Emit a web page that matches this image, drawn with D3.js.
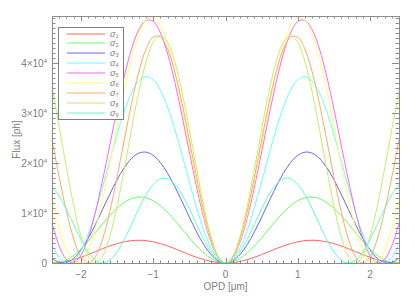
<!DOCTYPE html>
<html>
<head>
<meta charset="utf-8">
<script src="https://cdn.jsdelivr.net/npm/d3@7"></script>
<style>
  body { margin: 0; background: #fff; }
  svg text { font-family: "Liberation Sans", Arial, sans-serif; fill: #808080; }
</style>
</head>
<body>
<div id="chart"></div>
<script>
// OPD samples (µm)
var opd = [-2.4,-2.3,-2.2,-2.1,-2.0,-1.9,-1.8,-1.7,-1.6,-1.5,-1.4,-1.3,-1.2,-1.1,-1.0,-0.9,-0.8,-0.7,-0.6,-0.5,-0.4,-0.3,-0.2,-0.1,
           0.0,0.1,0.2,0.3,0.4,0.5,0.6,0.7,0.8,0.9,1.0,1.1,1.2,1.3,1.4,1.5,1.6,1.7,1.8,1.9,2.0,2.1,2.2,2.3,2.4];

// flux [ph] for each spectral channel
var sigma1 = [0,80,300,670,1140,1690,2280,2860,3410,3880,4250,4470,4550,4470,4250,3880,3410,2860,2280,1690,1140,670,300,80,
              0,80,300,670,1140,1690,2280,2860,3410,3880,4250,4470,4550,4470,4250,3880,3410,2860,2280,1690,1140,670,300,80,0];
var sigma2 = [40,80,590,1520,2810,4360,6070,7820,9490,10950,12100,12870,13190,13050,12460,11450,10100,8510,6780,5030,3400,2000,910,230,
              0,230,910,2000,3400,5030,6780,8510,10100,11450,12460,13050,13190,12870,12100,10950,9490,7820,6070,4360,2810,1520,590,80,40];
var sigma3 = [960,110,110,960,2600,4890,7670,10710,13780,16650,19090,20900,21960,22170,21530,20080,17930,15260,12260,9170,6230,3670,1690,430,
              0,430,1690,3670,6230,9170,12260,15260,17930,20080,21530,22170,21960,20900,19090,16650,13780,10710,7670,4890,2600,960,110,110,960];
var sigma4 = [3630,1110,30,490,2450,5750,10110,15160,20540,25720,30330,33990,36370,37290,36680,34570,31160,26710,21600,16240,11080,6550,3010,770,
              0,770,3010,6550,11080,16240,21600,26710,31160,34570,36680,37290,36370,33990,30330,25720,20540,15160,10110,5750,2450,490,30,1110,3630];
var sigma5 = [7920,3390,680,40,1520,4990,10150,16550,23620,30750,37350,42790,46630,48530,48320,46010,41820,36120,29380,22190,15190,9000,4150,1060,
              0,1060,4150,9000,15190,22190,29380,36120,41820,46010,48320,48530,46630,42790,37350,30750,23620,16550,10150,4990,1520,40,680,3390,7920];
var sigma6 = [12840,6870,2550,290,290,2560,6880,12860,19910,27420,34680,40970,45750,48550,49130,47410,43580,37970,31100,23660,16280,9690,4480,1150,
              0,1150,4480,9690,16280,23660,31100,37970,43580,47410,49130,48550,45750,40970,34680,27420,19910,12860,6880,2560,290,290,2550,6870,12840];
var sigma7 = [24630,17160,10310,4800,1230,0,1230,4800,10310,17160,24630,31890,38160,42760,45190,45190,42760,38160,31890,24630,17160,10310,4800,1230,
              0,1230,4800,10310,17160,24630,31890,38160,42760,45190,45190,42760,38160,31890,24630,17160,10310,4800,1230,0,1230,4800,10310,17160,24630];
var sigma8 = [35200,27200,19000,11500,5400,1400,0,1370,5320,11380,18800,26700,34130,40180,44130,45500,44130,40180,34130,26700,18800,11380,5320,1370,
              0,1370,5320,11380,18800,26700,34130,40180,44130,45500,44130,40180,34130,26700,18800,11380,5320,1370,0,1370,5320,11380,18800,26700,34130];
var sigma9 = [15300,13400,10700,7700,4710,2220,570,0,570,2220,4710,7720,10830,13620,15730,16860,16860,15730,13620,10830,7720,4710,2220,570,
              0,570,2220,4710,7720,10830,13620,15730,16860,16860,15730,13620,10830,7720,4710,2220,570,0,570,2220,4710,7720,10830,13620,15730];

var seriesNames = ["1","2","3","4","5","6","7","8","9"];
var seriesValues = [sigma1, sigma2, sigma3, sigma4, sigma5, sigma6, sigma7, sigma8, sigma9];
var colors = ["#ff6464","#64ff64","#6464ff","#64ffff","#ff64ff","#ffff64","#ffaa64","#c4f064","#64ffc0"];

var xTicks = [-2, -1, 0, 1, 2];
var yTicks = [0, 10000, 20000, 30000, 40000];
var yTickMant = ["0", "1", "2", "3", "4"];

// layout (plot box in pixels)
var W = 415, H = 297;
var pL = 52, pR = 399, pT = 16, pB = 263;
var axisCol = "#8c8c8c";

var svg = d3.select("#chart").append("svg")
    .attr("width", W)
    .attr("height", H);

var x = d3.scaleLinear().domain([-2.4, 2.4]).range([pL, pR]);
var y = d3.scaleLinear().domain([0, 49400]).range([pB, pT]);

// curves
var line = d3.line()
    .x(function (d, i) { return x(opd[i]); })
    .y(function (d) { return y(d); })
    .curve(d3.curveCatmullRom);

svg.append("g").selectAll("path")
    .data(seriesValues)
    .enter()
    .append("path")
    .attr("fill", "none")
    .attr("stroke", function (d, i) { return colors[i]; })
    .attr("stroke-width", 1)
    .attr("d", line);

// frame
svg.append("rect")
    .attr("x", pL + 0.5).attr("y", pT + 0.5)
    .attr("width", pR - pL).attr("height", pB - pT)
    .attr("fill", "none").attr("stroke", axisCol);

// ticks, inward, mirrored on the opposite side
var xMinor = d3.range(-24, 25).map(function (k) { return k / 10; });
var yMinor = d3.range(0, 50).map(function (k) { return k * 1000; });
var tk = svg.append("g").attr("stroke", axisCol).attr("stroke-width", 1);

xMinor.forEach(function (v) {
    var major = Math.abs(v - Math.round(v)) < 1e-6;
    var len = major ? 5 : 2.5;
    var px = Math.round(x(v)) + 0.5;
    tk.append("line").attr("x1", px).attr("x2", px).attr("y1", pB).attr("y2", pB - len);
    tk.append("line").attr("x1", px).attr("x2", px).attr("y1", pT).attr("y2", pT + len);
});
yMinor.forEach(function (v) {
    var major = v % 10000 === 0;
    var len = major ? 7 : 3.5;
    var py = Math.round(y(v)) + 0.5;
    tk.append("line").attr("y1", py).attr("y2", py).attr("x1", pL).attr("x2", pL + len);
    tk.append("line").attr("y1", py).attr("y2", py).attr("x1", pR).attr("x2", pR - len);
});

// x tick labels
svg.append("g").selectAll("text")
    .data(xTicks)
    .enter()
    .append("text")
    .attr("x", function (d) { return x(d); })
    .attr("y", 278)
    .attr("text-anchor", "middle")
    .attr("font-size", 10)
    .text(function (d) { return d < 0 ? "\u2212" + Math.abs(d) : d; });

// y tick labels
var yl = svg.append("g").selectAll("text")
    .data(yTicks)
    .enter()
    .append("text")
    .attr("x", 47)
    .attr("y", function (d) { return y(d) + 3.5; })
    .attr("text-anchor", "end")
    .attr("font-size", 10);
yl.each(function (d, i) {
    var t = d3.select(this);
    if (d === 0) { t.text("0"); return; }
    t.append("tspan").text(yTickMant[i] + "\u00d710");
    t.append("tspan").attr("font-size", 6).attr("dy", -4).text("4");
});

// axis titles
svg.append("text")
    .attr("x", (pL + pR) / 2)
    .attr("y", 290)
    .attr("text-anchor", "middle")
    .attr("font-size", 10)
    .text("OPD [\u03bcm]");

svg.append("text")
    .attr("transform", "translate(20," + ((pT + pB) / 2) + ") rotate(-90)")
    .attr("text-anchor", "middle")
    .attr("font-size", 10)
    .text("Flux [ph]");

// legend
var lg = svg.append("g");
lg.append("rect")
    .attr("x", 58.5).attr("y", 27.5)
    .attr("width", 65).attr("height", 92)
    .attr("fill", "#fff").attr("stroke", "#808080");

seriesNames.forEach(function (name, i) {
    var ly = Math.round(33.5 + i * 9.95);
    lg.append("line")
        .attr("x1", 67).attr("x2", 105)
        .attr("y1", ly).attr("y2", ly)
        .attr("stroke", colors[i]).attr("stroke-width", 1);
    var t = lg.append("text")
        .attr("x", 110).attr("y", ly + 2.5)
        .attr("font-size", 9);
    t.append("tspan").attr("font-style", "italic").text("\u03c3");
    t.append("tspan").attr("font-size", 5.5).attr("dy", 1.5).text(name);
});
</script>
</body>
</html>
